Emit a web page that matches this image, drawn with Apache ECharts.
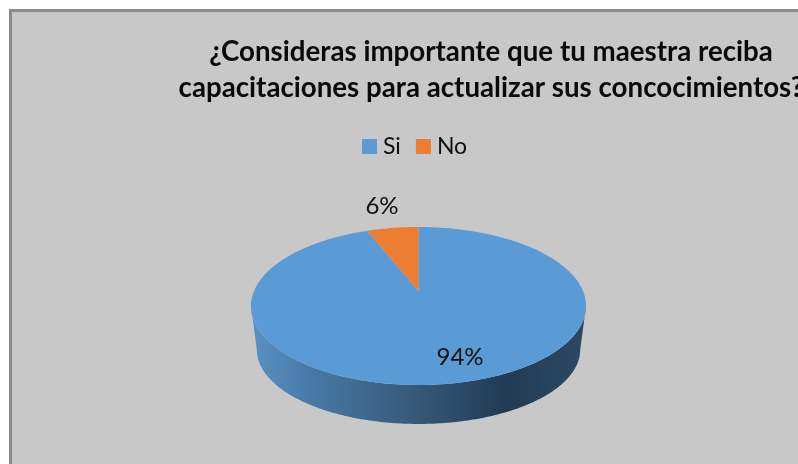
<!DOCTYPE html>
<html><head><meta charset="utf-8">
<style>html,body{margin:0;padding:0;background:#fff}#c{width:798px;height:464px}</style>
<script src="https://cdn.jsdelivr.net/npm/echarts@6/dist/echarts.min.js"></script>
</head><body><div id="c"></div>
<script>
const categories = ['Si', 'No'];
const shares = [94, 6];
const sliceColors = ['#5B9BD5', '#ED7D31'];
const titleLines = ['¿Consideras importante que tu maestra reciba', 'capacitaciones para actualizar sus concocimientos?'];

const FONT = 'Lato, Carlito, "Open Sans", sans-serif';
const total = shares.reduce((a, b) => a + b, 0);
// tilted pie: circle projected with a perspective factor
const apex = [418.5, 291], Ax = 164.5, By = 76.15, K = 0.19;
const labelPos = [[460, 357], [382, 206]];
function topFace(t) { // t: radians clockwise from 12 o'clock
  const u = Math.sin(t), v = -Math.cos(t), d = 1 - K * v;
  return [apex[0] + Ax * u / d, apex[1] + By * v / d];
}
function rim(t) {
  const p = topFace(t);
  return [apex[0] + (p[0] - apex[0]) * 0.965, apex[1] + (p[1] - apex[1]) * 0.94 + 44.6];
}
function arc(fn, a, b) {
  const n = Math.max(2, Math.ceil(Math.abs(b - a) / 0.015)), pts = [];
  for (let i = 0; i <= n; i++) pts.push(fn(a + (b - a) * i / n));
  return pts;
}
function renderSlice(idx) {
  const start = shares.slice(0, idx).reduce((a, b) => a + b, 0) / total * Math.PI * 2;
  const end = start + shares[idx] / total * Math.PI * 2;
  const children = [];
  // visible front wall: between the widest points of the projected ellipse
  const a0 = Math.PI - Math.acos(K), a1 = Math.PI + Math.acos(K);
  const from = Math.max(start, a0), to = Math.min(end, a1);
  if (to > from) {
    children.push({
      type: 'polygon',
      shape: { points: arc(topFace, from, to).concat(arc(rim, to, from)) },
      style: {
        fill: new echarts.graphic.LinearGradient(0, 0, 1, 0, [
          { offset: 0, color: '#5A92C4' },
          { offset: 0.2, color: '#4677A3' },
          { offset: 0.5, color: '#355877' },
          { offset: 0.76, color: '#223B54' },
          { offset: 1, color: '#2C4964' }
        ])
      }
    });
  }
  children.push({
    type: 'polygon',
    shape: { points: [apex].concat(arc(topFace, start, end)) },
    style: { fill: sliceColors[idx] }
  });
  children.push({
    type: 'text',
    z2: 10,
    style: {
      text: Math.round(shares[idx] / total * 100) + '%',
      x: labelPos[idx][0], y: labelPos[idx][1],
      align: 'center', verticalAlign: 'middle',
      font: '24px ' + FONT, fill: '#111'
    }
  });
  return { type: 'group', children };
}
const chart = echarts.init(document.getElementById('c'), null, { renderer: 'canvas' });
chart.setOption({
  animation: false,
  backgroundColor: '#ffffff',
  graphic: [{
    type: 'rect', z: -10, silent: true,
    shape: { x: 10.5, y: 10.5, width: 800, height: 470 },
    style: { fill: '#C8C8C8', stroke: '#8C8C8C', lineWidth: 3 }
  }],
  title: {
    text: titleLines.join('\n'),
    left: 486, top: 29, textAlign: 'center',
    textStyle: { fontFamily: FONT, fontWeight: 'bold', fontSize: 27.7, lineHeight: 36, color: '#0A0A0A' }
  },
  legend: {
    data: categories, left: 357, top: 130, icon: 'rect',
    itemWidth: 15, itemHeight: 15, itemGap: 15,
    textStyle: { fontFamily: FONT, fontSize: 23, color: '#111', padding: [0, 0, 0, 1] }
  },
  series: categories.map((name, i) => ({
    type: 'custom', name, coordinateSystem: 'none',
    z: i === 0 ? 2 : 3,
    itemStyle: { color: sliceColors[i] },
    data: [shares[i]],
    renderItem: () => renderSlice(i)
  }))
});
</script></body></html>
